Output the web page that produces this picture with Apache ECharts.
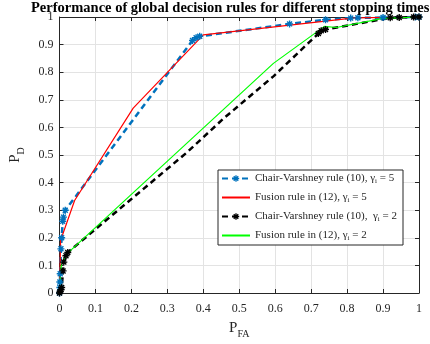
<!DOCTYPE html>
<html>
<head>
<meta charset="utf-8">
<script src="https://cdn.jsdelivr.net/npm/echarts@6/dist/echarts.min.js"></script>
<style>
  html, body { margin: 0; padding: 0; background: #fff; }
  #chart { width: 430px; height: 344px; }
</style>
</head>
<body>
<div id="chart"></div>
<script>
// Chair-Varshney rule (10), gamma_i = 5
const cv5X = [0, 0.001, 0.001, 0.002, 0.004, 0.006, 0.009, 0.011, 0.016, 0.045, 0.37, 0.38, 0.39, 0.64, 0.74, 0.81, 0.83, 0.90, 0.99, 1.0];
const cv5Y = [0, 0.02, 0.04, 0.07, 0.16, 0.2, 0.26, 0.275, 0.3, 0.35, 0.915, 0.925, 0.93, 0.975, 0.99, 0.996, 0.997, 0.998, 1.0, 1.0];
const cv5Plain = [9]; // points drawn without a marker
// Fusion rule in (12), gamma_i = 5
const fu5X = [0, 0.002, 0.003, 0.042, 0.205, 0.40, 0.82, 1.0];
const fu5Y = [0, 0.12, 0.19, 0.335, 0.67, 0.935, 0.997, 1.0];
// Chair-Varshney rule (10), gamma_i = 2
const cv2X = [0, 0.002, 0.004, 0.006, 0.01, 0.012, 0.018, 0.023, 0.355, 0.457, 0.595, 0.72, 0.728, 0.74, 0.86, 0.92, 0.945, 0.985, 1.0];
const cv2Y = [0, 0.005, 0.012, 0.02, 0.08, 0.112, 0.135, 0.147, 0.51, 0.633, 0.785, 0.94, 0.95, 0.955, 0.983, 0.997, 0.998, 1.0, 1.0];
const cv2Plain = [8, 9, 10, 14];
// Fusion rule in (12), gamma_i = 2
const fu2X = [0, 0.002, 0.005, 0.019, 0.595, 0.737, 0.77, 0.9, 1.0];
const fu2Y = [0, 0.05, 0.1, 0.14, 0.832, 0.966, 0.962, 0.995, 1.0];

const legendNames = [
  'Chair-Varshney rule (10), γi = 5',
  'Fusion rule in (12), γi = 5',
  'Chair-Varshney rule (10),  γi = 2',
  'Fusion rule in (12), γi = 2'
];

const pairs = (xs, ys, plain) => xs.map((x, i) =>
  plain && plain.includes(i) ? { value: [x, ys[i]], symbol: 'none' } : [x, ys[i]]);

// asterisk marker like matlab '*'
const star = 'path://M-1,-5L1,-5L1,5L-1,5Z M-5,-1L5,-1L5,1L-5,1Z M2.83,-4.24L4.24,-2.83L-2.83,4.24L-4.24,2.83Z M-4.24,-2.83L-2.83,-4.24L4.24,2.83L2.83,4.24Z';

const serif = '"Liberation Serif", "DejaVu Serif", serif';
const axisColor = '#262626';

const chart = echarts.init(document.getElementById('chart'), null, { renderer: 'canvas' });

const mkLine = (name, data, color, width, dashed, marker) => ({
  name,
  type: 'line',
  data,
  showSymbol: !!marker,
  symbol: marker ? star : 'none',
  symbolSize: 7,
  itemStyle: { color },
  lineStyle: { color, width, type: dashed ? [6, 4] : 'solid' },
  emphasis: { disabled: true },
  animation: false
});

const edgeAxis = {
  type: 'value', min: 0, max: 1, interval: 0.1,
  axisLine: { show: true, onZero: false, lineStyle: { color: axisColor, width: 1 } },
  axisTick: { show: true, inside: true, length: 4, lineStyle: { color: axisColor } },
  axisLabel: { show: false },
  splitLine: { show: false }
};

chart.setOption({
  animation: false,
  title: {
    text: 'Performance of global decision rules for different stopping times',
    left: 31,
    top: 1,
    padding: 0,
    textStyle: { fontFamily: serif, fontSize: 14.5, fontWeight: 'bold', color: '#000' }
  },
  grid: { left: 43, right: 11, top: 17, bottom: 42 },
  legend: {
    orient: 'vertical',
    left: 218,
    top: 170,
    itemWidth: 28,
    itemHeight: 8,
    itemGap: 7,
    padding: [3, 6, 3, 3],
    backgroundColor: '#fff',
    borderColor: axisColor,
    borderWidth: 1,
    borderRadius: 0,
    data: legendNames.map((name, i) => i % 2 ? { name, itemStyle: { opacity: 0 } } : { name }),
    formatter: n => {
      const k = n.indexOf('γi');
      return '{n|' + n.slice(0, k) + 'γ}{s|i}{n|' + n.slice(k + 2) + '}';
    },
    textStyle: {
      fontFamily: serif,
      color: axisColor,
      rich: {
        n: { fontFamily: serif, fontSize: 11, color: axisColor },
        s: { fontFamily: serif, fontSize: 7, color: axisColor, padding: [6, 0, 0, 0] }
      }
    }
  },
  xAxis: [{
    type: 'value', min: 0, max: 1, interval: 0.1,
    name: 'P{s|FA}', nameLocation: 'middle', nameGap: 24,
    nameTextStyle: {
      fontFamily: serif, fontSize: 15, color: axisColor,
      rich: { s: { fontFamily: serif, fontSize: 10, color: axisColor, padding: [12, 0, 0, 0] } }
    },
    axisLine: { show: true, onZero: false, lineStyle: { color: axisColor, width: 1 } },
    axisTick: { show: true, inside: true, length: 4, lineStyle: { color: axisColor } },
    axisLabel: { fontFamily: serif, fontSize: 12, color: axisColor, margin: 10 },
    splitLine: { show: true, lineStyle: { color: '#e3e3e3', width: 1 } }
  }, Object.assign({ position: 'top' }, edgeAxis)],
  yAxis: [{
    type: 'value', min: 0, max: 1, interval: 0.1,
    name: 'P{s|D}', nameLocation: 'middle', nameGap: 33, nameRotate: 90,
    nameTextStyle: {
      fontFamily: serif, fontSize: 15, color: axisColor,
      rich: { s: { fontFamily: serif, fontSize: 10, color: axisColor, padding: [12, 0, 0, 0] } }
    },
    axisLine: { show: true, onZero: false, lineStyle: { color: axisColor, width: 1 } },
    axisTick: { show: true, inside: true, length: 4, lineStyle: { color: axisColor } },
    axisLabel: { fontFamily: serif, fontSize: 12, color: axisColor, margin: 6 },
    splitLine: { show: true, lineStyle: { color: '#e3e3e3', width: 1 } }
  }, Object.assign({ position: 'right' }, edgeAxis)],
  series: [
    mkLine(legendNames[0], pairs(cv5X, cv5Y, cv5Plain), '#0072BD', 2.5, true, true),
    mkLine(legendNames[1], pairs(fu5X, fu5Y), '#FF0000', 1.2, false, false),
    mkLine(legendNames[2], pairs(cv2X, cv2Y, cv2Plain), '#000000', 2.5, true, true),
    mkLine(legendNames[3], pairs(fu2X, fu2Y), '#00FF00', 1.2, false, false)
  ]
});
</script>
</body>
</html>
